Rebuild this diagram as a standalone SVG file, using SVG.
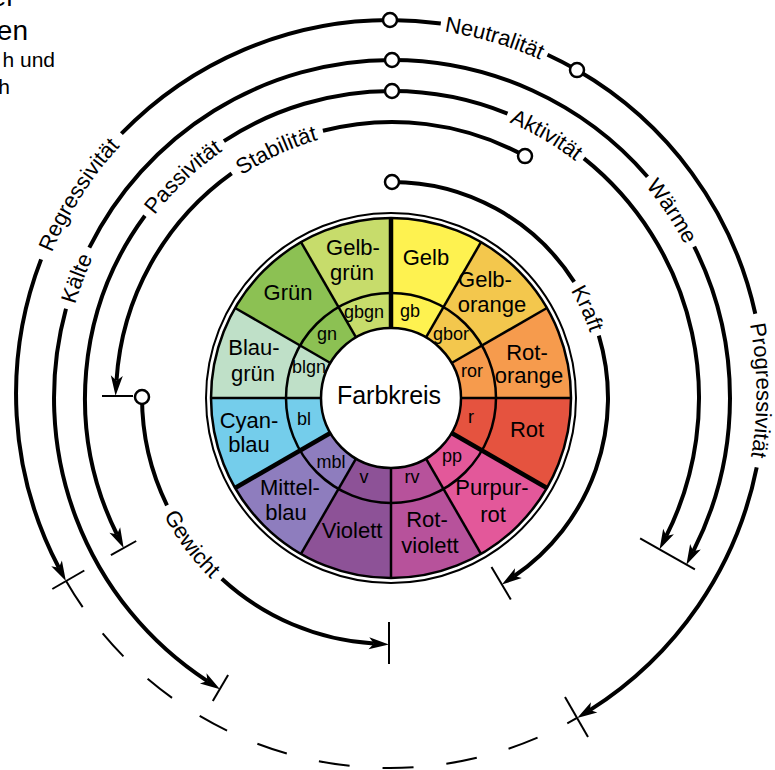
<svg xmlns="http://www.w3.org/2000/svg" width="775" height="770" viewBox="0 0 775 770">
<style>
.arc{fill:none;stroke:#000;stroke-width:4}
.tick{stroke:#000;stroke-width:2;fill:none}
.dash{fill:none;stroke:#000;stroke-width:2;stroke-dasharray:31 33}
.dot{fill:#fff;stroke:#000;stroke-width:2.5}
.div{stroke:#000;stroke-width:2.5}
.divb{stroke:#000;stroke-width:4.5}
.ring{fill:none;stroke:#000;stroke-width:2.5}
text{font-family:"Liberation Sans",Arial,sans-serif;fill:#000}
.lb{font-size:22px;text-anchor:middle}
.sm{font-size:18px;text-anchor:middle}
.at{font-size:22px}
.hd{text-anchor:end}
</style>
<defs>
<marker id="ah" markerUnits="userSpaceOnUse" viewBox="-6 -8 24 16" markerWidth="24" markerHeight="16" refX="0" refY="0" orient="auto">
<path d="M-5,-6 L15,0 L-5,6 L0,0 Z" fill="#000"/>
</marker>
<path id="tp-reg" d="M26.7,345.5 A366.5,366.5 0 0 1 193.6,84.6"/>
<path id="tp-neu" d="M334.9,31.7 A366.5,366.5 0 0 1 632.1,118.9"/>
<path id="tp-pro" d="M720.7,235.9 A366.5,366.5 0 0 1 723.6,545.7"/>
<path id="tp-kae" d="M62.4,422.2 A330.5,330.5 0 0 1 161.6,161.1"/>
<path id="tp-wae" d="M563.5,115.5 A330.5,330.5 0 0 1 718.7,347.7"/>
<path id="tp-pas" d="M113.5,287.8 A299.5,299.5 0 0 1 297.5,113.8"/>
<path id="tp-akt" d="M420.2,99.8 A299.5,299.5 0 0 1 638.5,227.9"/>
<path id="tp-sta" d="M186.3,225.4 A268.5,268.5 0 0 1 392,129.5"/>
<path id="tp-kra" d="M527,239.1 A208.5,208.5 0 0 1 600.5,399.3"/>
<path id="tp-gew" d="M139.8,448.6 A254.5,254.5 0 0 0 268.3,621.1"/>
</defs>

<g id="title-fragment">
<text class="hd" x="25" y="6" font-size="28">ter-</text>
<text class="hd" x="28" y="40" font-size="28">en</text>
<text class="hd" x="55" y="67" font-size="21">h und</text>
<text class="hd" x="10" y="94" font-size="21">h</text>
</g>

<g id="wheel">
<circle cx="391" cy="398" r="185" fill="#fff" stroke="#000" stroke-width="2"/>
<g id="seg-gelb"><path d="M391,398 L391,218 A180,180 0 0 1 481,242.1 Z" fill="#FEF250"/></g>
<g id="seg-gelborange"><path d="M391,398 L481,242.1 A180,180 0 0 1 546.9,308 Z" fill="#F3C74D"/></g>
<g id="seg-rotorange"><path d="M391,398 L546.9,308 A180,180 0 0 1 571,398 Z" fill="#F69B4D"/></g>
<g id="seg-rot"><path d="M391,398 L571,398 A180,180 0 0 1 546.9,488 Z" fill="#E5533F"/></g>
<g id="seg-purpurrot"><path d="M391,398 L546.9,488 A180,180 0 0 1 481,553.9 Z" fill="#E3589A"/></g>
<g id="seg-rotviolett"><path d="M391,398 L481,553.9 A180,180 0 0 1 391,578 Z" fill="#B7529B"/></g>
<g id="seg-violett"><path d="M391,398 L391,578 A180,180 0 0 1 301,553.9 Z" fill="#8D5297"/></g>
<g id="seg-mittelblau"><path d="M391,398 L301,553.9 A180,180 0 0 1 235.1,488 Z" fill="#8E7DBE"/></g>
<g id="seg-cyanblau"><path d="M391,398 L235.1,488 A180,180 0 0 1 211,398 Z" fill="#74CDEB"/></g>
<g id="seg-blaugruen"><path d="M391,398 L211,398 A180,180 0 0 1 235.1,308 Z" fill="#BFE0C8"/></g>
<g id="seg-gruen"><path d="M391,398 L235.1,308 A180,180 0 0 1 301,242.1 Z" fill="#8CC153"/></g>
<g id="seg-gelbgruen"><path d="M391,398 L301,242.1 A180,180 0 0 1 391,218 Z" fill="#C7DC6B"/></g>
<g id="wheel-lines">
<line class="div" x1="426" y1="337.4" x2="481" y2="242.1"/>
<line class="div" x1="451.6" y1="363" x2="546.9" y2="308"/>
<line class="div" x1="461" y1="398" x2="571" y2="398"/>
<line class="div" x1="426" y1="458.6" x2="481" y2="553.9"/>
<line class="div" x1="391" y1="468" x2="391" y2="578"/>
<line class="div" x1="356" y1="458.6" x2="301" y2="553.9"/>
<line class="div" x1="321" y1="398" x2="211" y2="398"/>
<line class="div" x1="330.4" y1="363" x2="235.1" y2="308"/>
<line class="div" x1="356" y1="337.4" x2="301" y2="242.1"/>
<line class="divb" x1="391" y1="328" x2="391" y2="218"/>
<line class="divb" x1="451.6" y1="433" x2="546.9" y2="488"/>
<line class="divb" x1="330.4" y1="433" x2="235.1" y2="488"/>
<circle class="ring" cx="391" cy="398" r="180"/>
<circle class="ring" cx="391" cy="398" r="105"/>
<circle cx="391" cy="398" r="70" fill="#fff" stroke="#000" stroke-width="2.5"/>
</g>
<g id="wheel-labels">
<text class="lb" x="426" y="265">Gelb</text>
<text class="lb" x="485" y="287">Gelb-</text><text class="lb" x="492" y="312">orange</text>
<text class="lb" x="527" y="360">Rot-</text><text class="lb" x="529" y="383">orange</text>
<text class="lb" x="527" y="437">Rot</text>
<text class="lb" x="492" y="495">Purpur-</text><text class="lb" x="493" y="522">rot</text>
<text class="lb" x="427" y="527">Rot-</text><text class="lb" x="430" y="553">violett</text>
<text class="lb" x="352" y="538">Violett</text>
<text class="lb" x="290" y="495">Mittel-</text><text class="lb" x="286" y="520">blau</text>
<text class="lb" x="249" y="428">Cyan-</text><text class="lb" x="249" y="452">blau</text>
<text class="lb" x="254" y="355">Blau-</text><text class="lb" x="253" y="381">grün</text>
<text class="lb" x="288" y="300">Grün</text>
<text class="lb" x="353" y="255">Gelb-</text><text class="lb" x="352" y="280">grün</text>
<text class="sm" x="410" y="317">gb</text>
<text class="sm" x="451" y="340">gbor</text>
<text class="sm" x="472" y="377">ror</text>
<text class="sm" x="471" y="423">r</text>
<text class="sm" x="452" y="462">pp</text>
<text class="sm" x="412" y="483">rv</text>
<text class="sm" x="364" y="483">v</text>
<text class="sm" x="331" y="468">mbl</text>
<text class="sm" x="304" y="425">bl</text>
<text class="sm" x="309" y="373">blgn</text>
<text class="sm" x="327" y="340">gn</text>
<text class="sm" x="364" y="318">gbgn</text>
</g>
<g id="center"><text x="389" y="404" font-size="25" text-anchor="middle">Farbkreis</text></g>
</g>

<g id="connectors">
<path class="arc" d="M390,20 A374,374 0 0 0 121.4,133.7"/>
<path class="arc" d="M41.1,259.4 A374,374 0 0 0 58.9,567.8" marker-end="url(#ah)"/>
<path class="arc" d="M390,20 A374,374 0 0 1 440.8,23.5"/>
<path class="arc" d="M547.5,54.8 A374,374 0 0 1 577,70.1"/>
<path class="arc" d="M577,70.1 A374,374 0 0 1 755.3,313.7"/>
<path class="arc" d="M756.7,467.3 A374,374 0 0 1 589.9,710.1" marker-end="url(#ah)"/>
<line class="tick" x1="84.3" y1="570.5" x2="52.3" y2="589"/>
<line class="tick" x1="565" y1="697.1" x2="588" y2="736.9"/>
<path class="dash" d="M66.1,581 A374,374 0 0 0 577,717.9"/>
<path class="arc" d="M392,60 A338,338 0 0 0 89.3,247.7"/>
<path class="arc" d="M66,308.8 A338,338 0 0 0 207.4,681.1" marker-end="url(#ah)"/>
<line class="tick" x1="228.1" y1="675.1" x2="212.8" y2="701"/>
<path class="arc" d="M392,60 A338,338 0 0 1 647.5,176.7"/>
<path class="arc" d="M694.2,246.6 A338,338 0 0 1 693.2,551.3" marker-end="url(#ah)"/>
<path class="arc" d="M392,91 A307,307 0 0 0 223.9,141.1"/>
<path class="arc" d="M144.9,215.8 A307,307 0 0 0 117,534.5" marker-end="url(#ah)"/>
<line class="tick" x1="136.2" y1="541" x2="110.9" y2="555.1"/>
<path class="arc" d="M392,91 A307,307 0 0 1 507.5,113.6"/>
<path class="arc" d="M583.9,158.4 A307,307 0 0 1 666.3,535.9" marker-end="url(#ah)"/>
<line class="tick" x1="640.1" y1="538.3" x2="694.9" y2="569.4"/>
<path class="arc" d="M525,156.1 A276,276 0 0 0 322.9,130.8"/>
<path class="arc" d="M231.7,173.3 A276,276 0 0 0 116.5,380.7" marker-end="url(#ah)"/>
<line class="tick" x1="102" y1="396" x2="133" y2="396"/>
<path class="arc" d="M142,397 A247,247 0 0 0 167,505.3"/>
<path class="arc" d="M221.8,578.8 A247,247 0 0 0 373.9,643.5" marker-end="url(#ah)"/>
<line class="tick" x1="389" y1="622" x2="389" y2="664"/>
<path class="arc" d="M392,182 A216,216 0 0 1 574.2,281.9"/>
<path class="arc" d="M598.8,335.6 A216,216 0 0 1 514.3,576" marker-end="url(#ah)"/>
<line class="tick" x1="491.5" y1="566.9" x2="510.8" y2="599.6"/>
<circle class="dot" cx="390" cy="20" r="7"/>
<circle class="dot" cx="577" cy="70.1" r="7"/>
<circle class="dot" cx="392" cy="60" r="7"/>
<circle class="dot" cx="392" cy="91" r="7"/>
<circle class="dot" cx="525" cy="156.1" r="7"/>
<circle class="dot" cx="392" cy="182" r="7"/>
<circle class="dot" cx="142" cy="397" r="7"/>
<text class="at"><textPath href="#tp-reg" startOffset="50%" text-anchor="middle">Regressivität</textPath></text>
<text class="at"><textPath href="#tp-neu" startOffset="50%" text-anchor="middle">Neutralität</textPath></text>
<text class="at"><textPath href="#tp-pro" startOffset="50%" text-anchor="middle">Progressivität</textPath></text>
<text class="at"><textPath href="#tp-kae" startOffset="50%" text-anchor="middle">Kälte</textPath></text>
<text class="at"><textPath href="#tp-wae" startOffset="50%" text-anchor="middle">Wärme</textPath></text>
<text class="at"><textPath href="#tp-pas" startOffset="50%" text-anchor="middle">Passivität</textPath></text>
<text class="at"><textPath href="#tp-akt" startOffset="50%" text-anchor="middle">Aktivität</textPath></text>
<text class="at"><textPath href="#tp-sta" startOffset="50%" text-anchor="middle">Stabilität</textPath></text>
<text class="at"><textPath href="#tp-kra" startOffset="50%" text-anchor="middle">Kraft</textPath></text>
<text class="at"><textPath href="#tp-gew" startOffset="50%" text-anchor="middle">Gewicht</textPath></text>
</g>
</svg>
